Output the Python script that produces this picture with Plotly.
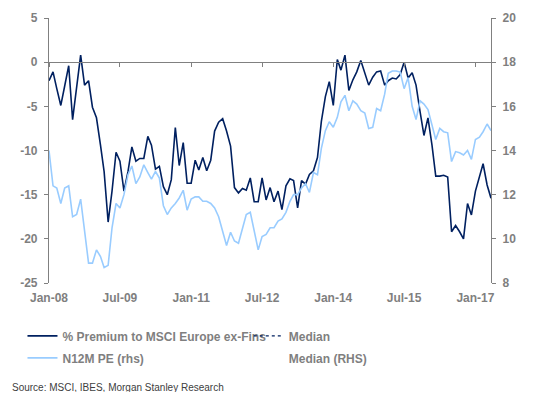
import pandas as pd
import plotly.graph_objects as go

# ---- data (monthly, Jan-08 .. May-17) ----
start_month = "2008-01-01"
n_months = 113

premium = [
    -2.1, -1.1, -3.0, -4.9, -2.7, -0.4, -6.5, -2.8, 0.8, -2.6,
    -2.1, -5.1, -6.3, -9.4, -12.4, -18.1, -14.6, -10.2, -11.2, -14.6,
    -12.4, -9.6, -11.2, -10.9, -10.9, -8.4, -9.4, -12.1, -11.8, -14.1,
    -15.0, -13.3, -7.4, -11.7, -9.1, -13.7, -13.7, -11.1, -12.2, -10.8,
    -12.3, -11.1, -7.8, -6.8, -6.4, -7.8, -9.5, -14.2, -14.8, -14.3,
    -14.5, -13.1, -15.8, -15.8, -13.1, -15.6, -14.2, -15.8, -14.6, -16.7,
    -14.0, -13.2, -13.4, -16.5, -13.4, -13.8, -12.7, -12.3, -10.8, -6.7,
    -3.9, -2.2, -4.9, 0.3, -0.9, 0.8, -3.2, -2.0, -1.1, 0.2,
    -1.2, -2.6, -1.7, -1.1, -1.0, -2.6, -2.1, -1.8, -1.9, -1.4,
    0.0, -1.8, -1.2, -2.6, -5.6, -8.3, -6.3, -9.4, -12.9, -12.9,
    -12.8, -13.0, -19.2, -18.5, -19.2, -20.0, -16.0, -17.3, -14.6, -12.9,
    -11.5, -13.9, -15.4,
]

n12m_pe = [
    14.0, 12.4, 12.3, 11.6, 12.3, 12.4, 11.0, 11.1, 11.8, 10.3,
    8.9, 8.9, 9.5, 9.2, 8.7, 8.8, 10.5, 11.6, 11.4, 12.0,
    12.9, 13.3, 12.5, 12.8, 13.35, 13.0, 12.7, 13.05, 12.75, 11.5,
    11.1, 11.4, 11.6, 11.85, 12.2, 11.3, 11.8, 11.9, 11.9, 11.7,
    11.7, 11.6, 11.4, 11.0, 10.3, 9.7, 10.3, 9.9, 9.8, 10.5,
    11.1, 11.2, 10.3, 9.5, 10.1, 10.2, 10.5, 10.5, 10.8, 10.9,
    11.2, 11.7, 12.0, 12.0, 12.3, 12.5, 12.1, 13.0, 12.9, 14.1,
    14.9, 15.3, 15.05, 15.5, 16.2, 16.5, 15.8, 16.25, 16.1, 15.8,
    15.7, 15.0, 15.05, 15.9, 15.8, 16.55, 17.5, 17.6, 17.6, 17.55,
    16.8, 17.3, 16.0, 15.4, 16.25, 16.1, 15.85, 15.1, 14.5, 15.0,
    14.85, 14.8, 13.5, 13.95, 13.9, 13.8, 14.0, 13.6, 14.5, 14.6,
    14.85, 15.2, 14.9,
]

tick_dates = ["2008-01-01", "2009-07-01", "2011-01-01", "2012-07-01",
              "2014-01-01", "2015-07-01", "2017-01-01"]
tick_labels = ["Jan-08", "Jul-09", "Jan-11", "Jul-12", "Jan-14", "Jul-15", "Jan-17"]

left_ticks = [-25, -20, -15, -10, -5, 0, 5]
left_tick_labels = ["-25", "-20", "-15", "-10", "-5", "0", "5"]
right_ticks = [8, 10, 12, 14, 16, 18, 20]
right_tick_labels = ["8", "10", "12", "14", "16", "18", "20"]

series_names = ["% Premium to MSCI Europe ex-Fins", "N12M PE (rhs)", "Median", "Median (RHS)"]
source_text = "Source: MSCI, IBES, Morgan Stanley Research"

dates = pd.date_range(start_month, periods=n_months, freq="MS")

# ---- styles ----
NAVY = "#002060"
LIGHT = "#99ccff"
GRAY = "#808080"
TXT = "#7f7f7f"
FONT = "Liberation Sans, Arial, sans-serif"
tickfont = dict(family=FONT, size=12, color=TXT, weight="bold")

fig = go.Figure()

fig.add_trace(go.Scatter(
    x=dates, y=n12m_pe, name=series_names[1], mode="lines",
    line=dict(color=LIGHT, width=1.6), xaxis="x2", yaxis="y2",
    legend="legend", legendrank=2, legendgroup="b",
))
fig.add_trace(go.Scatter(
    x=dates, y=premium, name=series_names[0], mode="lines",
    line=dict(color=NAVY, width=1.6), xaxis="x", yaxis="y",
    legend="legend", legendrank=1, legendgroup="a",
))
fig.add_trace(go.Scatter(
    x=[None], y=[None], name=series_names[2], mode="lines",
    line=dict(color=NAVY, width=1.2, dash="dot"),
    legend="legend2", legendrank=1, legendgroup="c",
))
fig.add_trace(go.Scatter(
    x=[None], y=[None], name=series_names[3], mode="lines",
    line=dict(color="rgba(0,0,0,0)", width=1.2),
    legend="legend2", legendrank=2, legendgroup="d",
))

x_range = [dates[0], dates[-1]]

legend_common = dict(
    orientation="v", bgcolor="rgba(0,0,0,0)", borderwidth=0,
    font=dict(family=FONT, size=12, color=TXT, weight="bold"),
    xanchor="left", yanchor="top", tracegroupgap=3, itemwidth=30,
)

axis_line = dict(showline=True, linecolor=GRAY, linewidth=1.2,
                 ticks="outside", ticklen=4, tickcolor=GRAY, tickwidth=1.2,
                 showgrid=False, zeroline=False, automargin=False)

# The page body has an 8px margin, so the figure is sized to fit inside the window.
fig.update_layout(
    width=521, height=384,
    margin=dict(l=41, r=38, t=10, b=109, autoexpand=False),
    plot_bgcolor="white", paper_bgcolor="white",
    showlegend=True,
    xaxis=dict(
        type="date", range=x_range, tickmode="array",
        tickvals=tick_dates, ticktext=tick_labels,
        showline=False, ticks="", showgrid=False, zeroline=False,
        tickfont=tickfont, anchor="y", ticklabelstandoff=6, automargin=False,
    ),
    xaxis2=dict(
        type="date", matches="x", overlaying="x", anchor="free",
        position=25 / 30, side="bottom",
        tickmode="array", tickvals=tick_dates, showticklabels=False,
        **axis_line,
    ),
    yaxis=dict(
        range=[-25, 5], tickmode="array", tickvals=left_ticks,
        ticktext=left_tick_labels, tickfont=tickfont,
        ticklabelstandoff=4, **axis_line,
    ),
    yaxis2=dict(
        range=[8, 20], tickmode="array", tickvals=right_ticks,
        ticktext=right_tick_labels, overlaying="y", side="right",
        anchor="x2", tickfont=tickfont, ticklabelstandoff=4, **axis_line,
    ),
    legend=dict(x=-0.06, y=-0.145, **legend_common),
    legend2=dict(x=0.452, y=-0.145, **legend_common),
    annotations=[dict(
        text=source_text, xref="paper", yref="paper",
        x=-0.088, y=-0.393, xanchor="left", yanchor="middle",
        showarrow=False, font=dict(family=FONT, size=10, color="#404040"),
    )],
)

fig.write_html("out.html")
